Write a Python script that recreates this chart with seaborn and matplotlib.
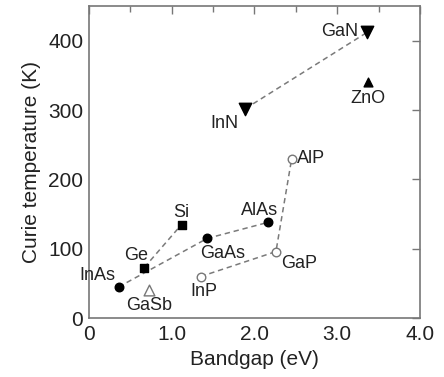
import numpy as np
import pandas as pd
import matplotlib
matplotlib.use('Agg')
import matplotlib.pyplot as plt
import seaborn as sns
from matplotlib.ticker import MultipleLocator, FixedFormatter, FixedLocator

# ----------------------------------------------------------------------------------
# data
# ----------------------------------------------------------------------------------
materials = ['InAs', 'Ge', 'Si', 'GaAs', 'AlAs', 'GaSb', 'InP', 'GaP', 'AlP', 'InN', 'GaN', 'ZnO']
bandgap = [0.36, 0.67, 1.12, 1.43, 2.16, 0.73, 1.35, 2.26, 2.45, 1.89, 3.36, 3.37]
curie_temp = [45, 73, 135, 115, 138, 40, 60, 96, 230, 302, 412, 340]
group = ['As', 'IV', 'IV', 'As', 'As', 'Sb', 'P', 'P', 'P', 'N', 'N', 'O']

# dashed connecting lines (in drawing order)
chains = [['InAs', 'GaAs', 'AlAs'], ['Ge', 'Si'], ['InP', 'GaP', 'AlP'], ['InN', 'GaN']]

x_ticks = [0, 1, 2, 3, 4]
x_tick_labels = ['0', '1.0', '2.0', '3.0', '4.0']
y_ticks = [0, 100, 200, 300, 400]

df = pd.DataFrame({'material': materials, 'bandgap': bandgap,
                   'tc': curie_temp, 'group': group})

# ----------------------------------------------------------------------------------
# styles
# ----------------------------------------------------------------------------------
sns.set_style('white')
plt.rcParams['font.family'] = ['Liberation Sans', 'DejaVu Sans']

ink = '#222222'
line_col = '#7a7a7a'
styles = {
    'As': dict(marker='o', s=38, facecolor='black', edgecolor='black'),
    'IV': dict(marker='s', s=28, facecolor='black', edgecolor='black'),
    'P':  dict(marker='o', s=38, facecolor='white', edgecolor='#777777'),
    'Sb': dict(marker='^', s=60, facecolor='white', edgecolor='#777777'),
    'N':  dict(marker='v', s=80, facecolor='black', edgecolor='black'),
    'O':  dict(marker='^', s=40, facecolor='black', edgecolor='black'),
}

# label placement: (dx, dy) in pixels, ha, va
label_pos = {
    'InAs': (-3, 7, 'right', 'baseline'),
    'Ge':   (-8, 8, 'center', 'baseline'),
    'Si':   (0, 8, 'center', 'baseline'),
    'GaAs': (15, -7, 'center', 'top'),
    'AlAs': (-8, 7, 'center', 'baseline'),
    'GaSb': (0, -7, 'center', 'top'),
    'InP':  (3, -6, 'center', 'top'),
    'GaP':  (5, -3, 'left', 'top'),
    'AlP':  (5, 0, 'left', 'center'),
    'InN':  (-7, -6, 'right', 'top'),
    'GaN':  (-9, 1, 'right', 'center'),
    'ZnO':  (0, -8, 'center', 'top'),
}

fig = plt.figure(figsize=(4.44, 3.77), dpi=100)
ax = fig.add_axes([0.2, 0.156, 0.746, 0.828])

for chain in chains:
    sub = df.set_index('material').loc[chain].reset_index()
    sns.lineplot(data=sub, x='bandgap', y='tc', sort=False, ax=ax,
                 color=line_col, linestyle=(0, (3.5, 2.5)), linewidth=1.1,
                 estimator=None, zorder=1)

for g, st in styles.items():
    sub = df[df.group == g]
    sns.scatterplot(data=sub, x='bandgap', y='tc', ax=ax, marker=st['marker'],
                    s=st['s'], color=st['facecolor'], edgecolor=st['edgecolor'],
                    linewidth=1.0, zorder=3, legend=False)

for _, row in df.iterrows():
    dx, dy, ha, va = label_pos[row.material]
    ax.annotate(row.material, (row.bandgap, row.tc), xytext=(dx, dy),
                textcoords='offset pixels', ha=ha, va=va, fontsize=13, color=ink)

# ----------------------------------------------------------------------------------
# axes
# ----------------------------------------------------------------------------------
ax.set_xlim(0, 4)
ax.set_ylim(0, 450)
ax.xaxis.set_major_locator(FixedLocator(x_ticks))
ax.xaxis.set_major_formatter(FixedFormatter(x_tick_labels))
ax.xaxis.set_minor_locator(MultipleLocator(0.5))
ax.yaxis.set_major_locator(FixedLocator(y_ticks))
ax.tick_params(which='both', direction='in', top=True, right=True,
               colors='#777777', labelcolor=ink, labelsize=15, width=1.0)
ax.tick_params(which='major', length=6)
ax.tick_params(axis='x', which='major', pad=5)
ax.tick_params(axis='y', which='major', pad=4)
ax.tick_params(which='minor', length=4)
for sp in ax.spines.values():
    sp.set_color('#777777')
    sp.set_linewidth(1.2)

ax.set_xlabel('Bandgap (eV)', fontsize=15, color=ink, labelpad=4)
ax.set_ylabel('Curie temperature (K)', fontsize=15, color=ink, labelpad=5)

plt.savefig('out.png', dpi=100)
